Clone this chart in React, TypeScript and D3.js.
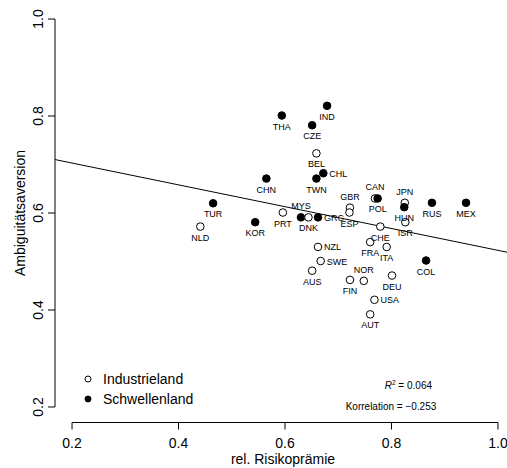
import React from "react";
import * as d3 from "d3";

// country codes, rel. risk premium, ambiguity aversion, group, label position
const countries = ["IND", "THA", "CZE", "BEL", "CHL", "TWN", "CHN", "GBR", "ESP", "CAN", "POL", "JPN", "HUN", "ISR", "RUS", "MEX", "COL", "CHE", "FRA", "ITA", "DEU", "USA", "AUT", "NOR", "FIN", "NZL", "SWE", "AUS", "MYS", "DNK", "GRC", "PRT", "TUR", "NLD", "KOR"];
const riskPremium = [0.679, 0.594, 0.651, 0.659, 0.672, 0.659, 0.565, 0.722, 0.721, 0.769, 0.774, 0.825, 0.824, 0.826, 0.876, 0.94, 0.865, 0.779, 0.76, 0.791, 0.801, 0.768, 0.76, 0.748, 0.722, 0.662, 0.667, 0.651, 0.63, 0.644, 0.662, 0.596, 0.465, 0.441, 0.544];
const ambiguity = [0.821, 0.801, 0.781, 0.723, 0.682, 0.671, 0.671, 0.611, 0.601, 0.63, 0.63, 0.621, 0.612, 0.581, 0.621, 0.621, 0.502, 0.572, 0.54, 0.53, 0.471, 0.421, 0.391, 0.46, 0.462, 0.53, 0.501, 0.481, 0.591, 0.591, 0.591, 0.601, 0.62, 0.572, 0.581];
const emerging = [1, 1, 1, 0, 1, 1, 1, 0, 0, 0, 1, 0, 1, 0, 1, 1, 1, 0, 0, 0, 0, 0, 0, 0, 0, 0, 0, 0, 1, 0, 1, 0, 1, 0, 1];
const labelPos = ["below", "below", "below", "below", "right", "below", "below", "above", "below", "above", "below", "above", "below", "below", "below", "below", "below", "below", "below", "below", "below", "right", "below", "above", "below", "right", "right", "below", "above", "below", "right", "below", "below", "below", "below"];

const xTicks = [0.2, 0.4, 0.6, 0.8, 1.0];
const yTicks = [0.2, 0.4, 0.6, 0.8, 1.0];
const fitIntercept = 0.748;
const fitSlope = -0.225;

const W = 507;
const H = 468;
const left = 55;
const right = 515;
const top = 3.5;
const bottom = 422.5;
const font = "'Liberation Sans', Arial, Helvetica, sans-serif";

export default function App() {
  const x = d3.scaleLinear().domain([0.168, 1.032]).range([left, right]);
  const y = d3.scaleLinear().domain([0.168, 1.032]).range([bottom, top]);

  const fitLine = d3
    .line<number>()
    .x((d) => x(d))
    .y((d) => y(fitIntercept + fitSlope * d));

  return (
    <svg
      width={W}
      height={H}
      style={{ position: "absolute", left: 0, top: 0, background: "#fff" }}
      fontFamily={font}
    >
      <defs>
        <clipPath id="plotArea">
          <rect x={left} y={top} width={right - left} height={bottom - top} />
        </clipPath>
      </defs>

      {/* x axis */}
      <line x1={x(0.2)} x2={x(1.0)} y1={bottom} y2={bottom} stroke="#000" />
      {xTicks.map((t) => (
        <g key={"x" + t}>
          <line x1={x(t)} x2={x(t)} y1={bottom} y2={bottom + 7} stroke="#000" />
          <text x={x(t)} y={bottom + 25} fontSize={14} textAnchor="middle">
            {t.toFixed(1)}
          </text>
        </g>
      ))}
      <text x={(left + right) / 2 - 2} y={464} fontSize={14} textAnchor="middle">
        rel. Risikoprämie
      </text>

      {/* y axis */}
      <line x1={left} x2={left} y1={y(0.2)} y2={y(1.0)} stroke="#000" />
      {yTicks.map((t) => (
        <g key={"y" + t}>
          <line x1={left} x2={left - 7} y1={y(t)} y2={y(t)} stroke="#000" />
          <text
            transform={`translate(${left - 12},${y(t)}) rotate(-90)`}
            fontSize={14}
            textAnchor="middle"
          >
            {t.toFixed(1)}
          </text>
        </g>
      ))}
      <text
        transform={`translate(25,${(top + bottom) / 2}) rotate(-90)`}
        fontSize={14}
        textAnchor="middle"
      >
        Ambiguitätsaversion
      </text>

      {/* regression line */}
      <path
        d={fitLine([0.1, 1.1]) || ""}
        stroke="#000"
        fill="none"
        clipPath="url(#plotArea)"
      />

      {/* points */}
      {countries.map((c, i) => (
        <circle
          key={c}
          cx={x(riskPremium[i])}
          cy={y(ambiguity[i])}
          r={3.8}
          fill={emerging[i] ? "#000" : "#fff"}
          stroke="#000"
          strokeWidth={1}
        />
      ))}

      {/* labels */}
      {countries.map((c, i) => {
        const px = x(riskPremium[i]);
        const py = y(ambiguity[i]);
        const pos = labelPos[i];
        let lx = px;
        let ly = py + 14;
        let anchor = "middle";
        if (pos === "above") ly = py - 8;
        if (pos === "right") {
          lx = px + 6;
          ly = py + 3.5;
          anchor = "start";
        }
        return (
          <text key={"l" + c} x={lx} y={ly} fontSize={9} textAnchor={anchor}>
            {c}
          </text>
        );
      })}

      {/* legend */}
      <circle cx={88} cy={379} r={3} fill="#fff" stroke="#000" />
      <circle cx={88} cy={399} r={3} fill="#000" stroke="#000" />
      <text x={103} y={384} fontSize={14}>
        Industrieland
      </text>
      <text x={103} y={404} fontSize={14}>
        Schwellenland
      </text>

      {/* statistics */}
      <text x={432} y={389} fontSize={10} textAnchor="end">
        <tspan fontStyle="italic">R</tspan>
        <tspan fontSize={6.5} dy={-4}>2</tspan>
        <tspan dy={4}> = 0.064</tspan>
      </text>
      <text x={391} y={410} fontSize={10} textAnchor="middle">
        Korrelation = −0.253
      </text>
    </svg>
  );
}
